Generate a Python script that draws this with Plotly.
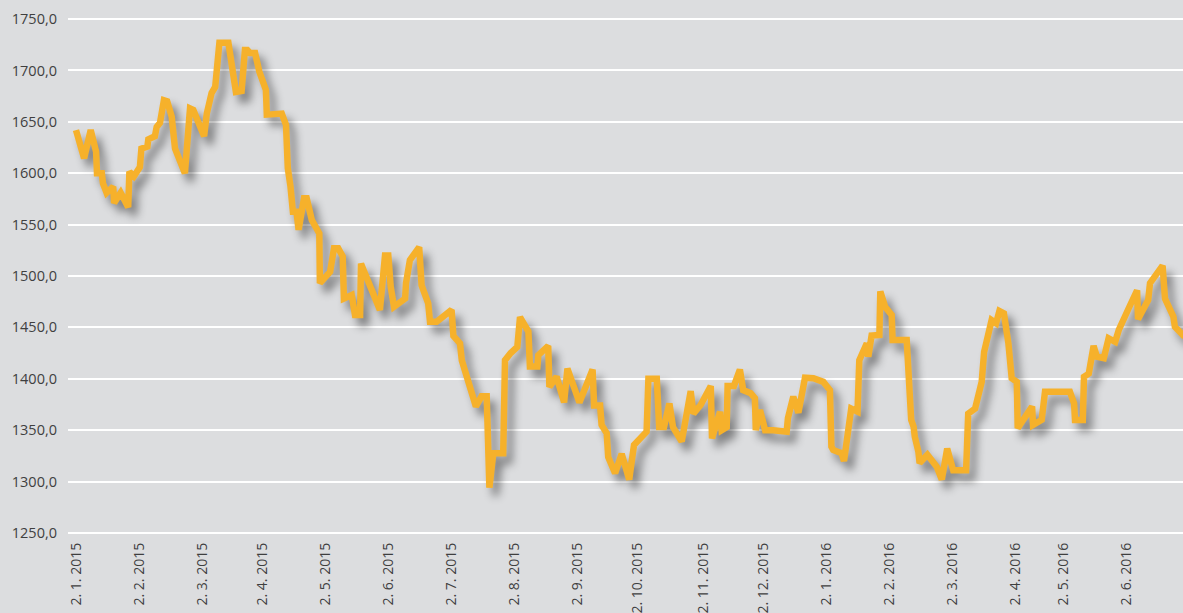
import plotly.graph_objects as go

# trading-day index (0 = 2. 1. 2015) and price
days = [0, 2.7, 4.9, 6.7, 7.0, 8.6, 9.0, 10.2, 12.4, 12.7, 14.9, 17.4, 17.8, 19.3, 21.3, 21.8,
        23.8, 24.1, 26.3, 26.9, 28.0, 29.3, 30.4, 31.9, 33.0, 36.3, 38.0, 39.1, 42.7, 43.6,
        45.2, 46.4, 47.8, 50.8, 53.3, 55.2, 56.3, 57.1, 58.0, 59.7, 61.1, 63.3, 63.6, 68.6,
        70.0, 70.2, 70.6, 71.5, 72.3, 73.5, 74.2, 76.0, 76.9, 78.6, 81.1, 81.3, 84.7, 86.0,
        87.4, 88.9, 89.3, 91.9, 93.0, 94.7, 95.0, 101.3, 103.0, 104.1, 104.9, 106.0, 109.7,
        110.0, 111.3, 114.4, 115.2, 117.4, 118.0, 120.2, 125.2, 125.8, 128.0, 128.6, 131.3,
        133.3, 135.2, 136.9, 137.8, 139.1, 142.4, 143.0, 144.9, 147.1, 148.0, 150.8, 151.3,
        153.8, 154.1, 157.4, 157.8, 160.2, 162.7, 163.8, 167.8, 172.2, 172.7, 174.7, 175.2,
        176.9, 177.4, 179.7, 181.9, 184.4, 186.0, 190.2, 190.8, 193.6, 194.4, 196.0, 197.8,
        199.0, 201.9, 204.9, 205.8, 208.2, 211.6, 212.0, 214.7, 215.2, 216.9, 217.2, 219.3,
        221.3, 222.4, 224.9, 226.3, 226.6, 228.0, 229.7, 232.4, 236.9, 237.3, 239.1, 240.8,
        243.0, 245.8, 249.1, 251.3, 251.8, 252.4, 255.2, 256.0, 258.4, 260.5, 261.1, 263.6,
        264.1, 265.2, 267.8, 268.1, 269.7, 271.9, 272.2, 276.9, 277.3, 278.0, 278.4, 279.2,
        279.6, 280.8, 281.2, 283.8, 286.9, 288.6, 290.4, 292.4, 296.7, 297.4, 299.7, 301.9,
        302.7, 305.2, 306.7, 307.8, 309.3, 310.8, 311.9, 313.6, 313.9, 318.7, 319.0, 321.9,
        323.0, 331.3, 332.7, 333.0, 335.6, 336.0, 337.6, 339.2, 340.3, 342.6, 344.2, 346.4,
        347.6, 351.4, 353.7, 354.0, 357.4, 358.0, 362.2, 363.0, 365.8, 366.3, 368.6, 369.5]

prices = [1642, 1614.5, 1642, 1621, 1600, 1600, 1590, 1581, 1587, 1571, 1581, 1567, 1601.5, 1597,
          1606, 1624, 1626, 1633, 1636, 1645, 1649, 1671, 1670, 1655, 1624, 1600, 1663, 1661.5,
          1636, 1658, 1678, 1684, 1727, 1727, 1679, 1680, 1720, 1720, 1717, 1717, 1699, 1681,
          1657, 1658, 1647, 1629, 1605, 1587, 1562.5, 1562.5, 1545, 1575.6, 1575.6, 1554.5,
          1541.5, 1493, 1504, 1527, 1527, 1519, 1478, 1481.5, 1462, 1462, 1512, 1467, 1520,
          1520, 1489.6, 1470, 1478, 1493, 1515.6, 1528, 1491, 1473.4, 1455.5, 1455.5, 1467,
          1441.6, 1434.5, 1418, 1392, 1373, 1383, 1383, 1294, 1327.5, 1327.5, 1418, 1425, 1431,
          1460, 1446, 1412, 1412, 1423, 1432, 1392, 1402, 1377, 1410, 1377, 1409, 1374, 1374,
          1355, 1347, 1324, 1308, 1327, 1302, 1335.6, 1348.5, 1400, 1400, 1353, 1353, 1376,
          1353, 1339, 1388, 1366, 1374.5, 1393, 1342, 1368, 1350, 1353, 1393, 1393, 1409, 1389,
          1386, 1381, 1350, 1369.6, 1350, 1350, 1348.5, 1361.6, 1382.6, 1367, 1401, 1400.5,
          1397, 1389, 1334, 1330.7, 1327.5, 1320, 1371, 1368, 1418, 1434.5, 1421.5, 1442,
          1442.6, 1485, 1470, 1462, 1437.7, 1437.7, 1412, 1399, 1360, 1353.4, 1343.7, 1329,
          1318, 1326, 1314.5, 1302, 1332, 1311, 1311, 1366, 1371, 1397, 1426, 1457, 1454, 1466,
          1463.7, 1434.5, 1400.5, 1397, 1352, 1373, 1355, 1360, 1387.4, 1387.4, 1376, 1360,
          1360, 1402, 1405, 1432, 1421.5, 1420, 1439.4, 1436, 1447.5, 1471.8, 1486, 1458,
          1476.6, 1493, 1510, 1478, 1460.4, 1450.7, 1444, 1441]

tick_days = [0, 21, 42, 62, 83, 104, 125, 146, 167, 187, 209, 229, 250, 271, 292, 313, 329, 350]
tick_labels = ["2. 1. 2015", "2. 2. 2015", "2. 3. 2015", "2. 4. 2015", "2. 5. 2015",
               "2. 6. 2015", "2. 7. 2015", "2. 8. 2015", "2. 9. 2015", "2. 10. 2015",
               "2. 11. 2015", "2. 12. 2015", "2. 1. 2016", "2. 2. 2016", "2. 3. 2016",
               "2. 4. 2016", "2. 5. 2016", "2. 6. 2016"]
y_ticks = [1250, 1300, 1350, 1400, 1450, 1500, 1550, 1600, 1650, 1700, 1750]

BG = "#dcdddf"
LINE = "#f6b12b"
TXT = "#3f3f3f"

fig = go.Figure()
fig.add_trace(go.Scatter(x=days, y=prices, mode="lines",
                         line=dict(color=LINE, width=6.5, shape="linear"),
                         hoverinfo="skip", showlegend=False))

fig.update_layout(
    width=1183, height=613,
    paper_bgcolor=BG, plot_bgcolor=BG,
    margin=dict(l=68, r=0, t=17, b=78, autoexpand=False),
    font=dict(family="Open Sans, DejaVu Sans, sans-serif", size=14, color=TXT),
    showlegend=False,
    xaxis=dict(range=[-2.667, 369], tickmode="array", tickvals=tick_days, ticktext=tick_labels,
               tickangle=-90, showgrid=False, zeroline=False, showline=False, ticks="",
               automargin=False, ticklabelstandoff=4, tickfont=dict(size=14, color=TXT)),
    yaxis=dict(range=[1248, 1752], tickmode="array", tickvals=y_ticks, tickformat=".1f",
               showgrid=True, gridcolor="white", gridwidth=2, zeroline=False, showline=False,
               automargin=False, ticks="", ticklabelstandoff=10,
               tickfont=dict(size=14.5, color=TXT)),
    separators=", ",
)

post = """
document.body.style.margin = '0';
document.body.style.overflow = 'hidden';
document.body.style.background = '#dcdddf';
var gd = document.getElementById('{plot_id}');
function addShadow(){
  gd.querySelectorAll('.scatterlayer .js-line').forEach(function(p){
    p.style.filter = 'drop-shadow(6px 8px 4px rgba(0,0,0,0.42))';
    p.style.strokeLinejoin = 'miter';
  });
}
addShadow();
gd.on('plotly_afterplot', addShadow);
"""

fig.write_html("out.html", post_script=post, config={"displayModeBar": False})
